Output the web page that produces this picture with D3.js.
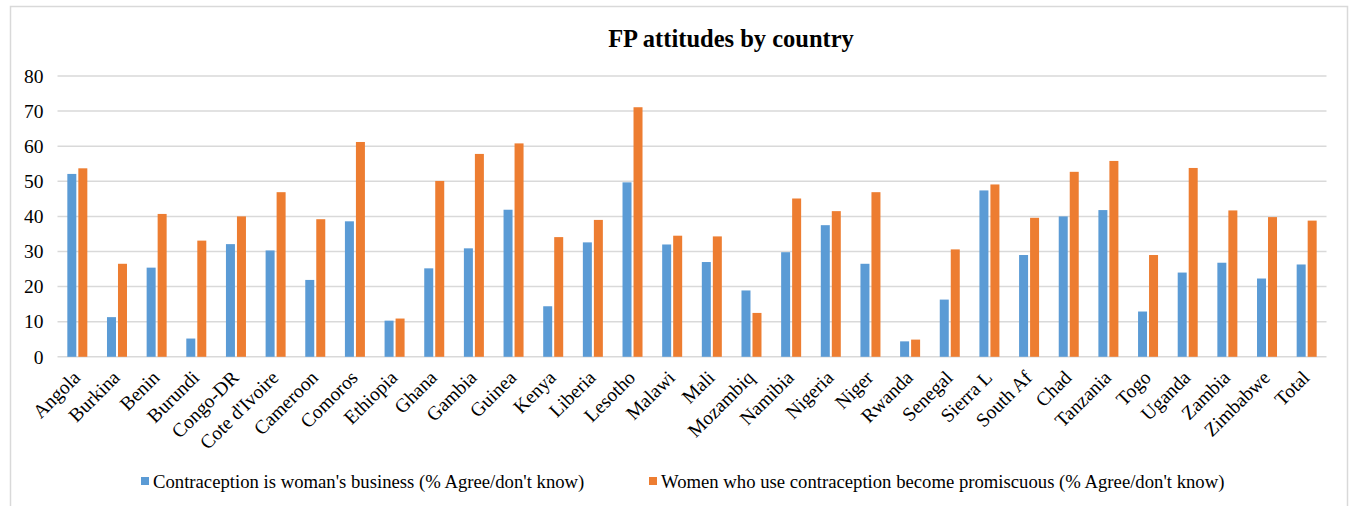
<!DOCTYPE html>
<html>
<head>
<meta charset="utf-8">
<script src="https://cdn.jsdelivr.net/npm/d3@7"></script>
<style>
    html, body { margin: 0; padding: 0; background: #fff; }
    svg { display: block; }
</style>
</head>
<body>
<div id="fp_chart"></div>
<script>
/*
 *  Data.
 */
const countries = ["Angola", "Burkina", "Benin", "Burundi", "Congo-DR", "Cote d'Ivoire",
    "Cameroon", "Comoros", "Ethiopia", "Ghana", "Gambia", "Guinea", "Kenya", "Liberia",
    "Lesotho", "Malawi", "Mali", "Mozambiq", "Namibia", "Nigeria", "Niger", "Rwanda",
    "Senegal", "Sierra L", "South Af", "Chad", "Tanzania", "Togo", "Uganda", "Zambia",
    "Zimbabwe", "Total"];

const womansBusiness = [52.1, 11.3, 25.4, 5.2, 32.1, 30.3, 21.9, 38.6, 10.3, 25.2,
    30.9, 41.9, 14.4, 32.6, 49.7, 32.0, 27.0, 18.9, 29.8, 37.5, 26.5, 4.4,
    16.3, 47.4, 29.0, 40.0, 41.8, 12.9, 24.0, 26.8, 22.3, 26.3];

const promiscuous = [53.7, 26.5, 40.7, 33.1, 40.0, 46.9, 39.2, 61.2, 10.9, 50.1,
    57.8, 60.8, 34.1, 39.0, 71.1, 34.5, 34.3, 12.5, 45.1, 41.5, 46.9, 4.9,
    30.6, 49.1, 39.6, 52.7, 55.8, 29.0, 53.8, 41.7, 39.8, 38.8];

const yTicks = [0, 10, 20, 30, 40, 50, 60, 70, 80];

const seriesNames = ["Contraception is woman's business (% Agree/don't know)",
    "Women who use contraception become promiscuous (% Agree/don't know)"];
const seriesColors = ["#5b9bd5", "#ed7d31"];

const serif = "\"Liberation Serif\", \"Times New Roman\", serif";
const width = 1351, height = 506;
const margin = { top: 76, right: 24, bottom: 149, left: 57.5 };

let svg = d3.select("#fp_chart").append("svg")
    .attr("width", width)
    .attr("height", height);

// chart frame
svg.append("rect")
    .attr("x", 10.5)
    .attr("y", 6.5)
    .attr("width", 1337)
    .attr("height", 520)
    .attr("fill", "none")
    .attr("stroke", "#d9d9d9")
    .attr("stroke-width", 1.5);

let x = d3.scaleBand()
    .domain(countries)
    .range([margin.left, width - margin.right - 0.5])
    .padding(0);

let y = d3.scaleLinear()
    .domain([0, 80])
    .range([height - margin.bottom - 0.2, margin.top]);

// title
svg.append("text")
    .attr("x", 731)
    .attr("y", 47)
    .attr("text-anchor", "middle")
    .style("font-family", serif)
    .style("font-size", "24.5px")
    .style("font-weight", "bold")
    .attr("fill", "#000")
    .text("FP attitudes by country");

// grid lines
svg.append("g")
    .selectAll("line")
    .data(yTicks)
    .join("line")
    .attr("x1", margin.left)
    .attr("x2", width - margin.right - 0.5)
    .attr("y1", d => y(d))
    .attr("y2", d => y(d))
    .attr("stroke", "#d9d9d9")
    .attr("stroke-width", 1.5);

// y axis labels (no axis line, just the numbers)
let yAxis = d3.axisLeft(y)
    .tickValues(yTicks)
    .tickSize(0)
    .tickPadding(14);

svg.append("g")
    .attr("transform", "translate(" + margin.left + ",0)")
    .call(yAxis)
    .call(g => g.select(".domain").remove())
    .selectAll("text")
    .style("font-family", serif)
    .style("font-size", "19.5px")
    .attr("fill", "#000");

/*
 *  Bars: two per country, side by side in the middle of the band.
 */
const barW = 9, barGap = 2;
let series = [womansBusiness, promiscuous];

series.forEach(function (values, i) {
    svg.append("g")
        .selectAll("rect")
        .data(countries)
        .join("rect")
        .attr("x", d => x(d) + x.bandwidth() / 2 - barW - barGap / 2 + i * (barW + barGap))
        .attr("y", (d, j) => y(values[j]))
        .attr("width", barW)
        .attr("height", (d, j) => y(0) - y(values[j]))
        .attr("fill", seriesColors[i]);
});

// x axis labels, rotated
let xAxis = d3.axisBottom(x)
    .tickSize(0)
    .tickPadding(0);

svg.append("g")
    .attr("transform", "translate(0," + y(0) + ")")
    .call(xAxis)
    .call(g => g.select(".domain").remove())
    .selectAll("text")
    .style("font-family", serif)
    .style("font-size", "19.5px")
    .attr("fill", "#000")
    .attr("text-anchor", "end")
    .attr("dy", null)
    .attr("y", null)
    .attr("transform", "translate(4,22) rotate(-45)");

/*
 *  Legend along the bottom.
 */
const legendX = [141, 649];
let legend = svg.append("g")
    .selectAll("g")
    .data(seriesNames)
    .join("g")
    .attr("transform", (d, i) => "translate(" + legendX[i] + ",477)");

legend.append("rect")
    .attr("width", 8)
    .attr("height", 8)
    .attr("fill", (d, i) => seriesColors[i]);

legend.append("text")
    .attr("x", 12)
    .attr("y", 11)
    .style("font-family", serif)
    .style("font-size", "18.7px")
    .attr("fill", "#000")
    .text(d => d);
</script>
</body>
</html>
